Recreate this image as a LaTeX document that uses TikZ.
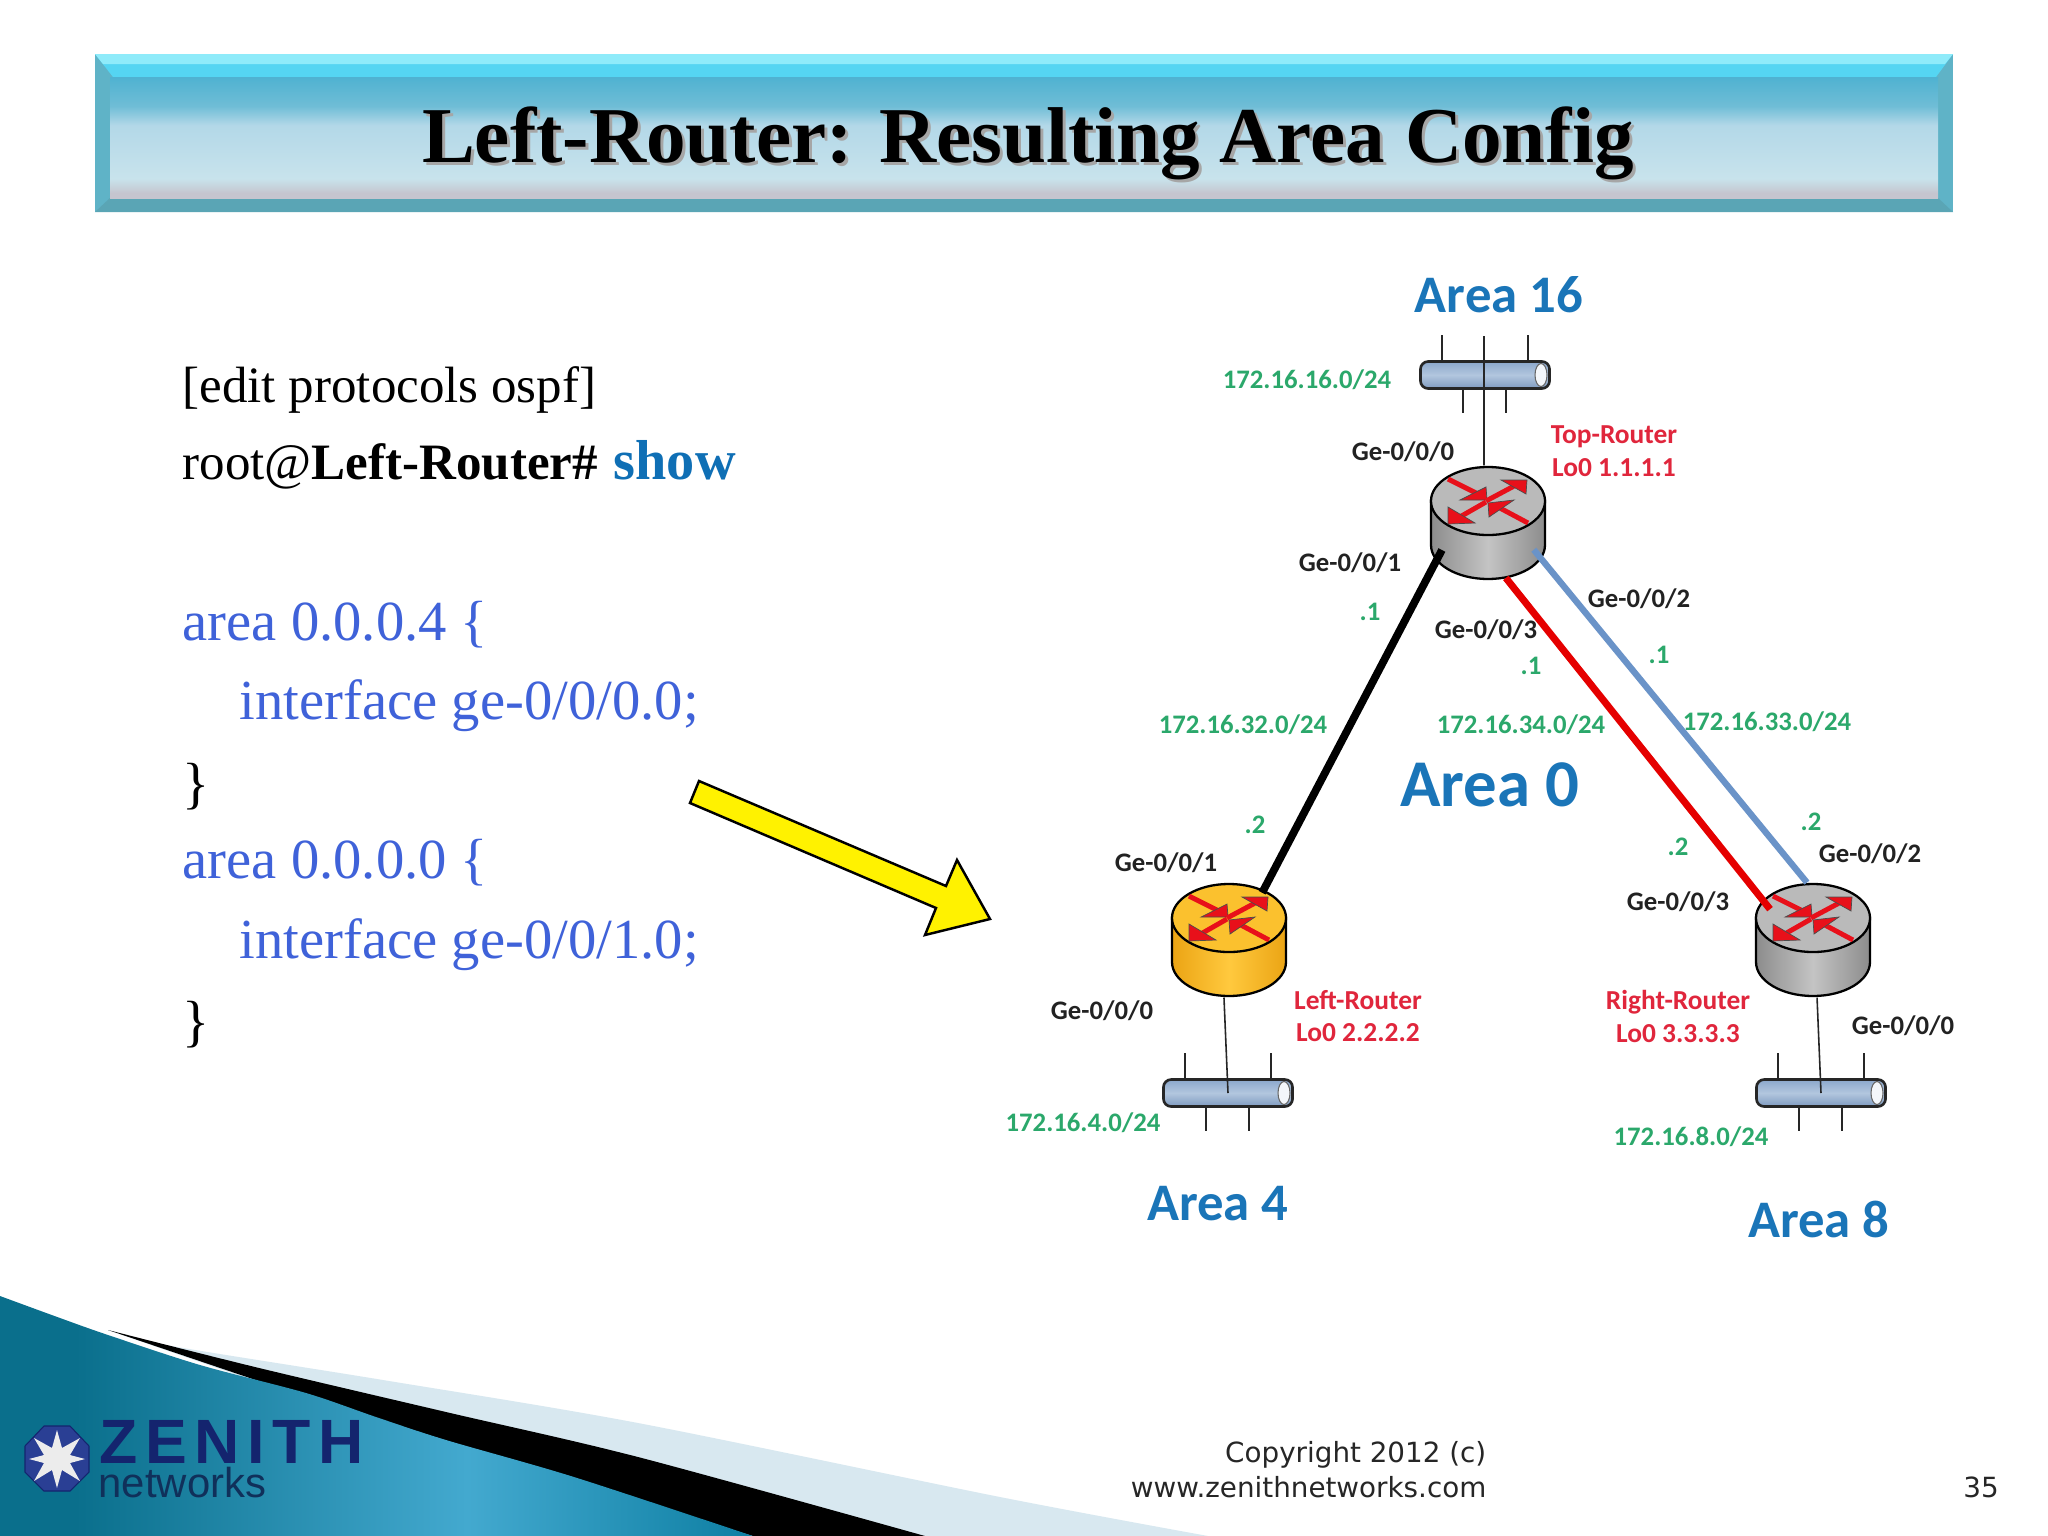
\documentclass[tikz,border=0pt]{standalone}
\usepackage{fontspec}
\setmainfont{Liberation Serif}
\newfontfamily\lblfont{Carlito}
\newfontfamily\hfont{Liberation Sans}
\newfontfamily\dvfont{DejaVu Sans}
\newfontfamily\zfont[LetterSpace=12]{Liberation Sans}
\usetikzlibrary{calc}
\definecolor{areablue}{HTML}{1A75B8}
\definecolor{netgreen}{HTML}{2BA86B}
\definecolor{rtrred}{HTML}{E0263C}
\definecolor{ifblack}{HTML}{222222}
\definecolor{cfgblue}{HTML}{3F62D9}
\definecolor{showblue}{HTML}{0F6FB5}
\definecolor{arrowred}{HTML}{E8101A}
\definecolor{linkblue}{HTML}{6A93C8}
\definecolor{bandtopa}{HTML}{8FEBFA}
\definecolor{bandtopb}{HTML}{55D5F2}
\definecolor{bandside}{HTML}{5FB3C7}
\definecolor{bandbot}{HTML}{5AA5B5}
\definecolor{facea}{HTML}{4FB2D1}
\definecolor{faceb}{HTML}{6FBDD6}
\definecolor{facec}{HTML}{B3D8E8}
\definecolor{faced}{HTML}{C8E3EC}
\definecolor{facee}{HTML}{C5C5CF}
\definecolor{busa}{HTML}{8BA7CB}
\definecolor{busb}{HTML}{B2C6DE}
\definecolor{busc}{HTML}{7F9BC0}
\definecolor{graye}{HTML}{8C8C8C}
\definecolor{graym}{HTML}{C4C4C4}
\definecolor{grayt}{HTML}{BABABA}
\definecolor{orge}{HTML}{EBA414}
\definecolor{orgm}{HTML}{FFC93E}
\definecolor{orgt}{HTML}{FBC12E}
\definecolor{teald}{HTML}{0A6F8C}
\definecolor{tealm}{HTML}{43A9CF}
\definecolor{tealr}{HTML}{0E7FA3}
\definecolor{palewedge}{HTML}{D8E8F0}
\definecolor{logoblue}{HTML}{2A3F94}
\definecolor{zenblue}{HTML}{14246E}
\definecolor{netdark}{HTML}{10305A}
\pgfdeclareverticalshading{titleface}{100bp}{color(0bp)=(facee);color(27bp)=(facee);color(33bp)=(faced);color(55bp)=(facec);color(63bp)=(faceb);color(75bp)=(facea);color(100bp)=(facea)}
\pgfdeclarehorizontalshading{tealgrad}{100bp}{color(0bp)=(teald);color(30bp)=(teald);color(56bp)=(tealm);color(75bp)=(tealr);color(100bp)=(tealr)}
\tikzset{
  lbl/.style={font=\lblfont\bfseries\fontsize{7.6}{9}\selectfont, inner sep=0pt, yshift=-0.3pt},
  areat/.style={font=\lblfont\bfseries\fontsize{15}{18}\selectfont, text=areablue, inner sep=0pt},
  nett/.style={lbl, text=netgreen},
  rtrt/.style={lbl, text=rtrred, font=\lblfont\bfseries\fontsize{7.8}{9}\selectfont, yshift=-0.3pt},
  ift/.style={lbl, text=ifblack},
  cfg/.style={anchor=base west, inner sep=0pt, font=\fontsize{14.5}{18}\selectfont},
  cfgb/.style={cfg, text=cfgblue, font=\fontsize{16.1}{19}\selectfont},
  thinlink/.style={draw=black!85, line width=0.45pt},
  fatlink/.style={line width=2pt},
  busbox/.style={rectangle, rounded corners=2.2pt, draw=black!85, line width=0.75pt, minimum width=1.29cm, minimum height=0.27cm, inner sep=0pt, top color=busa, bottom color=busc, middle color=busb},
  routerhit/.style={circle, minimum size=1.14cm, inner sep=0pt},
  redhead/.style={fill=arrowred, draw=black!70, line width=0.2pt},
  redshaft/.style={draw=arrowred, line width=1.4pt},
  foott/.style={inner sep=0pt, font=\dvfont\fontsize{7.9}{10}\selectfont, text=black!85}
}
\newcommand{\myrouter}[6]{%
  \begin{scope}[shift={(#2,#3)}]
    \path[left color=#4, right color=#4, middle color=#5, draw=black, line width=0.65pt]
      (-57,0) -- (-57,44) .. controls (-57,62.8) and (-31.5,78) .. (0,78)
      .. controls (31.5,78) and (57,62.8) .. (57,44) -- (57,0) -- cycle;
    \path[fill=#6, draw=black, line width=0.65pt] (0,0) ellipse [x radius=0.57cm, y radius=0.34cm];
    \node[routerhit] (#1) at (0,22) {};
    \draw[redshaft] (-40,-22) -- (-10,-7);
    \path[redhead] (-1,-1) -- (-2,-14) -- (-28,-1) -- cycle;
    \draw[redshaft] (-2,0) -- (28,-16);
    \path[redhead] (39,-21) -- (13,-21) -- (38,-7) -- cycle;
    \draw[redshaft] (-2,1) -- (-30,17);
    \path[redhead] (-40,23) -- (-40,6) -- (-13,22) -- cycle;
    \draw[redshaft] (40,22) -- (10,6);
    \path[redhead] (0,2) -- (26,-1) -- (1,16) -- cycle;
  \end{scope}}
\newcommand{\mybus}[3]{%
  \node[busbox] (#1) at (#2,#3) {};
  \begin{scope}[shift={(#2,#3)}]
    \path[fill=white!85!busb, draw=black!60, line width=0.3pt] (56,0) ellipse [x radius=0.06cm, y radius=0.115cm];
    \draw[thinlink] (-43,-14) -- (-43,-40) (43,-14) -- (43,-40) (-22,14) -- (-22,38) (21,14) -- (21,38);
  \end{scope}}
\begin{document}
\begin{tikzpicture}[x=0.01cm,y=-0.01cm]
\useasboundingbox (0,0) rectangle (2048,1536);
\fill[white] (0,0) rectangle (2048,1536);
% title bar
\fill[bandside] (95,54) rectangle (1953,212);
\fill[bandtopb] (95,54) -- (1953,54) -- (1936,77) -- (113,77) -- cycle;
\fill[bandtopa] (95,54) -- (1953,54) -- (1945,64) -- (103,64) -- cycle;
\fill[bandbot] (95,212) -- (110,198) -- (1938,198) -- (1953,212) -- cycle;
\path[shading=titleface] (110,77) rectangle (1938,198);
\node[text=black!35, inner sep=0pt, font=\bfseries\fontsize{22.5}{27}\selectfont] (titleshadow) at (1031,146) {Left-Router: Resulting Area Config};
\node[text=black, inner sep=0pt, font=\bfseries\fontsize{22.5}{27}\selectfont] (title) at (1028,143) {Left-Router: Resulting Area Config};
% left text
\node[cfg] (t1) at (182,402) {[edit protocols ospf]};
\node[cfg] (t2) at (182,479) {root@\textbf{Left-Router\#}\hspace{0.9pt} \textcolor{showblue}{\textbf{\fontsize{16}{18}\selectfont show}}};
\node[cfgb] (t3) at (182,640) {area 0.0.0.4 \{};
\node[cfgb] (t4) at (239,719) {interface ge-0/0/0.0;};
\node[cfg, font=\fontsize{16.1}{19}\selectfont] (t5) at (182,802) {\}};
\node[cfgb] (t6) at (182,878) {area 0.0.0.0 \{};
\node[cfgb] (t7) at (239,958) {interface ge-0/0/1.0;};
\node[cfg, font=\fontsize{16.1}{19}\selectfont] (t8) at (182,1040) {\}};
% yellow arrow
\path[fill=yellow, draw=black, line width=0.7pt] (699,781) -- (946,886) -- (957,860) -- (990,919) -- (925,935) -- (936,908) -- (690,803) -- cycle;
% buses and routers
\mybus{busT}{1485}{375}
\mybus{busL}{1228}{1093}
\mybus{busR}{1821}{1093}
\myrouter{top}{1488}{501}{graye}{graym}{grayt}
\myrouter{left}{1229}{918}{orge}{orgm}{orgt}
\myrouter{right}{1813}{918}{graye}{graym}{grayt}
% connectors
\coordinate (topend) at (1484,336);
\draw[thinlink] (top.94) -- (topend);
\draw[thinlink] (left.265) -- (busL.center);
\draw[thinlink] (right.274) -- (busR.center);
\draw[fatlink, black, line width=2.2pt, shorten <=-0.05cm] (top.213) -- (left.55);
\draw[fatlink, red!90!black, shorten >=-0.05cm] (top.288) -- (right.143);
\draw[fatlink, linkblue, line width=1.8pt, shorten <=-0.05cm] (top.328) -- (right.96);
% area labels
\node[areat] (a16) at (1499,295) {Area 16};
\node[areat, font=\lblfont\bfseries\fontsize{19}{22}\selectfont] (a0) at (1490,785) {Area 0};
\node[areat] (a4) at (1218,1204) {Area 4};
\node[areat] (a8) at (1819,1219) {Area 8};
% networks
\node[nett] (n1) at (1307,379) {172.16.16.0/24};
\node[nett] (n2) at (1243,724) {172.16.32.0/24};
\node[nett] (n3) at (1521,724) {172.16.34.0/24};
\node[nett] (n4) at (1767,721) {172.16.33.0/24};
\node[nett] (n5) at (1083,1122) {172.16.4.0/24};
\node[nett] (n6) at (1691,1136) {172.16.8.0/24};
\node[nett] (h1) at (1370,611) {.1};
\node[nett] (h2) at (1531,665) {.1};
\node[nett] (h3) at (1659,654) {.1};
\node[nett] (h4) at (1255,824) {.2};
\node[nett] (h5) at (1678,846) {.2};
\node[nett] (h6) at (1811,821) {.2};
% interfaces
\node[ift] (i1) at (1403,451) {Ge-0/0/0};
\node[ift] (i2) at (1350,562) {Ge-0/0/1};
\node[ift] (i3) at (1486,629) {Ge-0/0/3};
\node[ift] (i4) at (1639,598) {Ge-0/0/2};
\node[ift] (i5) at (1166,862) {Ge-0/0/1};
\node[ift] (i6) at (1102,1010) {Ge-0/0/0};
\node[ift] (i7) at (1678,901) {Ge-0/0/3};
\node[ift] (i8) at (1870,853) {Ge-0/0/2};
\node[ift] (i9) at (1903,1025) {Ge-0/0/0};
% router names
\node[rtrt] (r1) at (1614,435) {Top-Router};
\node[rtrt] (r2) at (1614,465) {Lo0 1.1.1.1};
\node[rtrt] (r3) at (1358,998) {Left-Router};
\node[rtrt] (r4) at (1358,1030) {Lo0 2.2.2.2};
\node[rtrt] (r5) at (1678,1000) {Right-Router};
\node[rtrt] (r6) at (1678,1031) {Lo0 3.3.3.3};
% swoosh
\fill[palewedge] plot[smooth] coordinates {(108,1330) (166,1345) (383,1380) (638,1423) (1000,1497) (1208,1536)} -- (700,1536) -- cycle;
\fill[black] plot[smooth] coordinates {(108,1330) (255,1367) (446,1412) (638,1457) (925,1536)} -- (753,1536) -- (300,1395) -- cycle;
\path[shading=tealgrad]
  plot[smooth] coordinates {(0,1296) (60,1318) (108,1335) (200,1365) (306,1393) (376,1417) (446,1440) (574,1477) (753,1536)} -- (0,1536) -- cycle;
% logo
\path[fill=logoblue, draw=zenblue, line width=0.3pt] (44,1426) -- (70,1426) -- (89,1446) -- (89,1472) -- (70,1491) -- (44,1491) -- (25,1472) -- (25,1446) -- cycle;
\fill[white!85!gray] (57,1430) -- (62,1448) -- (80,1438) -- (70,1455) -- (85,1459) -- (70,1463) -- (80,1481) -- (62,1470) -- (57,1488) -- (52,1470) -- (34,1481) -- (44,1463) -- (29,1459) -- (44,1455) -- (34,1438) -- (52,1448) -- cycle;
\node[anchor=base west, inner sep=0pt, text=zenblue, font=\zfont\bfseries\fontsize{17.8}{20}\selectfont] (zen) at (99,1463) {ZENITH};
\node[anchor=base west, inner sep=0pt, text=netdark, font=\hfont\fontsize{11.9}{13}\selectfont] (net) at (98,1497) {networks};
% footer
\node[foott, anchor=east] (c1) at (1487,1455) {Copyright 2012 (c)};
\node[foott, anchor=east] (c2) at (1487,1487) {www.zenithnetworks.com};
\node[foott] (pg) at (1981,1487) {35};
\end{tikzpicture}
\end{document}
